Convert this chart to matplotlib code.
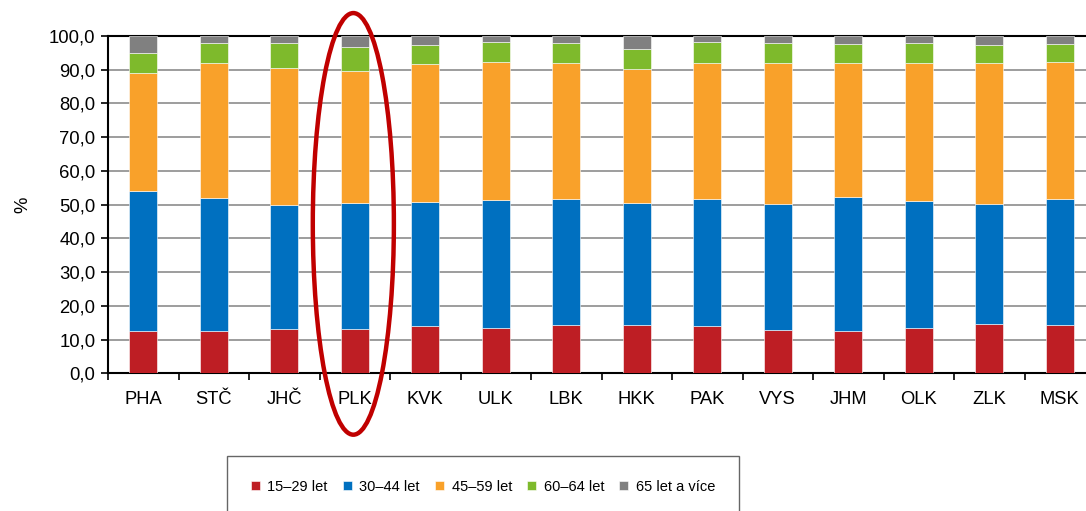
import matplotlib
matplotlib.use("Agg")
import matplotlib.pyplot as plt
from matplotlib.patches import Ellipse
from matplotlib.ticker import FuncFormatter
import numpy as np

plt.rcParams["font.family"] = ["Liberation Sans", "DejaVu Sans"]

regions = ["PHA", "STČ", "JHČ", "PLK", "KVK", "ULK", "LBK",
           "HKK", "PAK", "VYS", "JHM", "OLK", "ZLK", "MSK"]
age_groups = ["15–29 let", "30–44 let", "45–59 let", "60–64 let", "65 let a více"]

age_15_29 = [12.4, 12.4, 13.1, 13.1, 14.0, 13.5, 14.2, 14.4, 14.0, 12.8, 12.4, 13.3, 14.5, 14.2]
age_30_44 = [41.5, 39.7, 36.8, 37.5, 36.9, 38.0, 37.6, 36.2, 37.8, 37.5, 39.8, 37.8, 35.8, 37.4]
age_45_59 = [35.0, 39.8, 40.7, 39.0, 40.7, 40.7, 40.3, 39.6, 40.1, 41.6, 39.7, 41.0, 41.6, 40.7]
age_60_64 = [6.0, 5.9, 7.2, 7.2, 5.6, 5.9, 5.7, 5.9, 6.4, 6.0, 5.8, 5.7, 5.4, 5.4]
age_65_plus = [5.1, 2.2, 2.2, 3.2, 2.8, 1.9, 2.2, 3.9, 1.7, 2.1, 2.3, 2.2, 2.7, 2.3]

colors = ["#BE1E24", "#0070C0", "#F9A12A", "#7EBA2C", "#808080"]

series = [age_15_29, age_30_44, age_45_59, age_60_64, age_65_plus]

fig = plt.figure(figsize=(10.86, 5.11), dpi=100)
ax = fig.add_axes([108 / 1086, 1 - 373.3 / 511, 987 / 1086, 337.3 / 511])

x = np.arange(len(regions))
bottom = np.zeros(len(regions))
for vals, col, lab in zip(series, colors, age_groups):
    vals = np.array(vals)
    ax.bar(x, vals, width=0.4, bottom=bottom, color=col, label=lab,
           edgecolor="white", linewidth=0.4, zorder=3)
    bottom += vals

ax.set_xlim(-0.5, len(regions) - 0.5)
ax.set_ylim(0, 100)
ax.set_yticks(np.arange(0, 101, 10))
ax.yaxis.set_major_formatter(FuncFormatter(lambda v, p: f"{v:.1f}".replace(".", ",")))
ax.grid(axis="y", color="#8c8c8c", linewidth=1.2, zorder=0)

ax.set_xticks(x)
ax.set_xticklabels(regions)
ax.set_xticks(np.arange(-0.5, len(regions), 1), minor=True)
ax.tick_params(axis="x", which="major", length=0, pad=13, labelsize=13.2)
ax.tick_params(axis="x", which="minor", length=5, width=1.2, direction="out")
ax.tick_params(axis="y", length=5, width=1.2, direction="out", labelsize=13.3, pad=4)

for s in ["left", "bottom", "top"]:
    ax.spines[s].set_linewidth(1.5)
    ax.spines[s].set_color("black")
ax.spines["right"].set_visible(False)

ax.set_ylabel("%", fontsize=13.3, labelpad=13)

# red ring highlighting PLK
ring = Ellipse((2.98, 44.3), width=1.15, height=125, fill=False,
               edgecolor="#C00000", linewidth=3.2, clip_on=False, zorder=5)
ax.add_patch(ring)

fig.legend(ncol=5, loc="upper left", bbox_to_anchor=(227 / 1086, 1 - 455.7 / 511),
           fontsize=10.5, frameon=True, fancybox=False, edgecolor="#404040",
           borderpad=1.65, handlelength=0.62, handleheight=0.62, handletextpad=0.5,
           columnspacing=1.05, borderaxespad=0)

fig.savefig("out.png", dpi=100)
